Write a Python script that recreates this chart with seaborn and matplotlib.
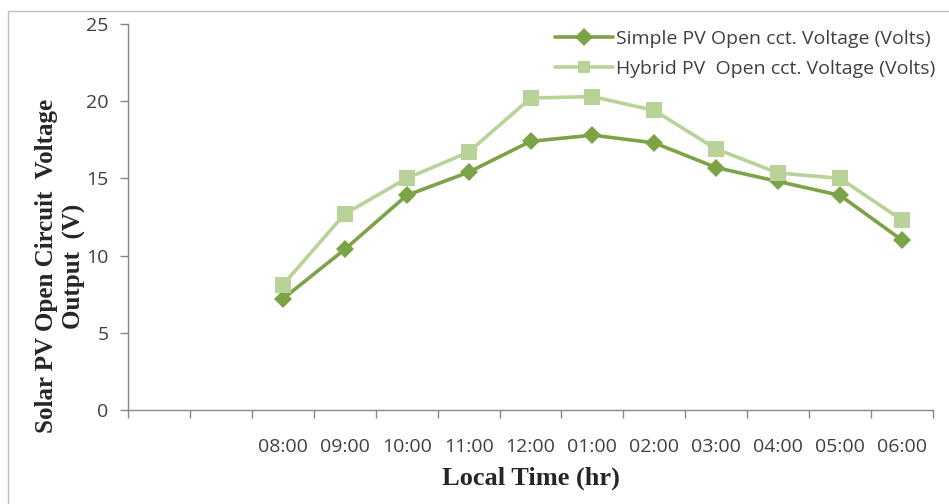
import matplotlib
matplotlib.use("Agg")
import matplotlib.pyplot as plt
import seaborn as sns
import pandas as pd
import numpy as np
from matplotlib.ticker import FixedLocator, NullFormatter

categories = ["", "", "08:00", "09:00", "10:00", "11:00", "12:00", "01:00",
              "02:00", "03:00", "04:00", "05:00", "06:00"]
times = ["08:00", "09:00", "10:00", "11:00", "12:00", "01:00",
         "02:00", "03:00", "04:00", "05:00", "06:00"]
simple_pv = [7.2, 10.4, 13.9, 15.4, 17.4, 17.8, 17.3, 15.7, 14.8, 13.9, 11.0]
hybrid_pv = [8.1, 12.7, 15.0, 16.7, 20.2, 20.3, 19.4, 16.9, 15.35, 15.0, 12.3]

s1 = "Simple PV Open cct. Voltage (Volts)"
s2 = "Hybrid PV  Open cct. Voltage (Volts)"

pos = [categories.index(t) for t in times]
df = pd.DataFrame({
    "pos": pos + pos,
    "value": simple_pv + hybrid_pv,
    "series": [s1] * len(times) + [s2] * len(times),
})

sns.set_style("white")
fig = plt.figure(figsize=(9.49, 5.04), dpi=100)
ax = fig.add_axes([128/949, 1 - 410/504, (933-128)/949, (410-24)/504])

sns.lineplot(data=df, x="pos", y="value", hue="series", style="series",
             markers={s1: "D", s2: "s"}, dashes=False,
             palette={s1: "#7CA345", s2: "#B9D298"},
             linewidth=2.6, markersize=9, markeredgewidth=0, ax=ax)
for line, ms in zip(ax.get_lines()[:2], [9, 11]):
    line.set_markersize(ms)

ax.set_xlim(-0.5, len(categories) - 0.5)
ax.set_ylim(0, 25)
ax.set_yticks([0, 5, 10, 15, 20, 25])
ax.set_xticks(range(len(categories)))
ax.set_xticklabels(categories)
ax.xaxis.set_minor_locator(FixedLocator(np.arange(-0.5, len(categories), 1.0)))
ax.xaxis.set_minor_formatter(NullFormatter())
ax.tick_params(axis="x", which="major", length=0, pad=20, labelsize=14,
               colors="#404040")
ax.tick_params(axis="x", which="minor", length=6, color="#878787", width=1,
               direction="out", bottom=True)
ax.tick_params(axis="y", which="major", length=6, color="#878787", width=1,
               direction="out", left=True, labelsize=14, labelcolor="#404040", pad=8)
for lab in ax.get_xticklabels() + ax.get_yticklabels():
    lab.set_family("Open Sans")

for side in ["top", "right"]:
    ax.spines[side].set_visible(False)
for side in ["left", "bottom"]:
    ax.spines[side].set_color("#878787")
    ax.spines[side].set_linewidth(1)

ax.set_xlabel("Local Time (hr)", family="Liberation Serif", weight="bold",
              fontsize=19, labelpad=8)
ax.set_ylabel("Solar PV Open Circuit  Voltage\nOutput  (V)", family="Liberation Serif",
              weight="bold", fontsize=18, linespacing=1.25)
ax.yaxis.set_label_coords(-0.052, 0.373)

leg = ax.legend(loc="upper right", bbox_to_anchor=(1.025, 1.03), frameon=False,
                handlelength=3.0, handletextpad=0.15, labelspacing=0.62,
                prop={"family": "Open Sans", "size": 14})
for t in leg.get_texts():
    t.set_color("#404040")

# outer chart border
fig.add_artist(plt.Line2D([8/949, 8/949], [0, 1 - 11/504], color="#BFBFBF", lw=1,
                          transform=fig.transFigure))
fig.add_artist(plt.Line2D([8/949, 1], [1 - 11/504, 1 - 11/504], color="#BFBFBF", lw=1,
                          transform=fig.transFigure))

fig.savefig("out.png", dpi=100)
